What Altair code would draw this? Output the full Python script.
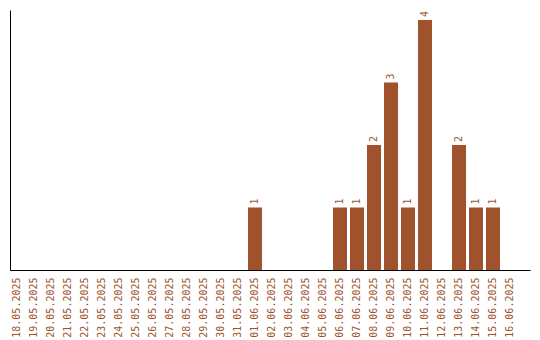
import altair as alt
import pandas as pd

dates = ["18.05.2025", "19.05.2025", "20.05.2025", "21.05.2025", "22.05.2025",
         "23.05.2025", "24.05.2025", "25.05.2025", "26.05.2025", "27.05.2025",
         "28.05.2025", "29.05.2025", "30.05.2025", "31.05.2025", "01.06.2025",
         "02.06.2025", "03.06.2025", "04.06.2025", "05.06.2025", "06.06.2025",
         "07.06.2025", "08.06.2025", "09.06.2025", "10.06.2025", "11.06.2025",
         "12.06.2025", "13.06.2025", "14.06.2025", "15.06.2025", "16.06.2025"]
counts = [0, 0, 0, 0, 0, 0, 0, 0, 0, 0, 0, 0, 0, 0, 1,
          0, 0, 0, 0, 1, 1, 2, 3, 1, 4, 0, 2, 1, 1, 0]

df = pd.DataFrame({"date": dates, "count": counts})
color = "#A0522D"
font = "DejaVu Sans Mono"

x = alt.X("date:N", sort=dates,
          scale=alt.Scale(paddingInner=3/17, paddingOuter=0.382, align=0),
          axis=alt.Axis(title=None, labelAngle=-90, ticks=False, labelPadding=7,
                        labelColor=color, labelFont=font, labelFontSize=10,
                        domainColor="black", grid=False))
y = alt.Y("count:Q", scale=alt.Scale(domain=[0, 4.16], nice=False),
          axis=alt.Axis(title=None, labels=False, ticks=False, grid=False,
                        domainColor="black"))

bars = alt.Chart(df).mark_bar(color=color).encode(x=x, y=y)
texts = alt.Chart(df).transform_filter("datum.count > 0").mark_text(
    angle=270, align="left", baseline="middle", dx=3,
    color=color, font=font, fontSize=10
).encode(x=alt.X("date:N", sort=dates), y="count:Q", text="count:Q")

chart = (bars + texts).properties(
    width=520, height=260,
    padding={"left": 10, "top": 10, "right": 10, "bottom": 0},
    background="white"
).configure_view(stroke=None)

chart.save("out.html", embed_options={"renderer": "svg", "actions": False})
